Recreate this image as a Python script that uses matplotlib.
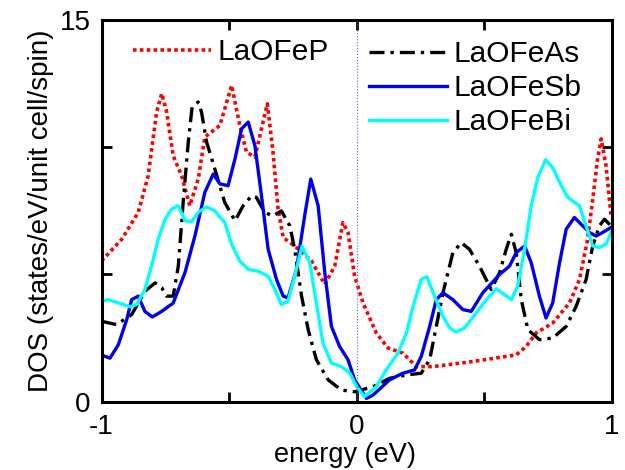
import matplotlib
matplotlib.use('Agg')
import matplotlib.pyplot as plt

plt.rcParams['font.family'] = ['Liberation Sans', 'DejaVu Sans']

# DOS curves (energy in eV, DOS)
p_x = [-1.0, -0.921, -0.856, -0.817, -0.784, -0.764, -0.745, -0.719, -0.686, -0.654, -0.621, -0.595,
       -0.536, -0.49, -0.458, -0.432, -0.399, -0.373, -0.350, -0.328, -0.308, -0.288, -0.243, -0.177,
       -0.125, -0.086, -0.054, -0.034, -0.008, 0.025, 0.077, 0.123, 0.181, 0.234, 0.299, 0.455, 0.625,
       0.664, 0.703, 0.768, 0.834, 0.873, 0.905, 0.925, 0.944, 0.958, 0.977, 0.997]
p_y = [5.53, 6.38, 7.44, 8.88, 11.39, 12.11, 11.4, 9.67, 8.88, 7.70, 8.75, 10.40,
       10.86, 12.43, 10.86, 9.81, 9.61, 10.73, 11.71, 9.81, 7.57, 6.45, 6.12, 5.53,
       4.61, 5.33, 7.04, 6.65, 4.93, 3.88, 2.70, 2.11, 1.91, 1.38, 1.38, 1.58, 1.84,
       2.17, 2.70, 3.09, 3.88, 4.80, 6.38, 7.96, 9.54, 10.33, 9.28, 7.30]

as_x = [-1.0, -0.941, -0.882, -0.83, -0.79, -0.764, -0.745, -0.719, -0.699, -0.68, -0.66, -0.645,
        -0.621, -0.608, -0.588, -0.556, -0.517, -0.477, -0.445, -0.412, -0.393, -0.36, -0.328, -0.295,
        -0.262, -0.243, -0.216, -0.19, -0.158, -0.112, -0.06, -0.008, 0.064, 0.129, 0.195, 0.253,
        0.286, 0.312, 0.338, 0.377, 0.41, 0.442, 0.481, 0.527, 0.560, 0.586, 0.606, 0.625, 0.645,
        0.671, 0.716, 0.768, 0.821, 0.86, 0.899, 0.925, 0.951, 0.971, 0.997]
as_y = [3.16, 3.03, 3.42, 4.34, 4.67, 4.48, 4.15, 4.15, 5.33, 7.83, 10.2, 11.58,
        11.78, 11.38, 10.2, 9.15, 7.83, 7.11, 7.70, 8.09, 8.03, 7.44, 7.30, 7.50,
        6.91, 5.99, 4.15, 2.83, 1.65, 0.86, 0.46, 0.39, 0.59, 0.92, 1.05, 1.12,
        1.65, 2.96, 4.28, 5.86, 6.25, 5.99, 5.33, 4.41, 5.07, 5.99, 6.58, 5.86, 4.01,
        2.83, 2.44, 2.50, 2.96, 3.75, 4.80, 6.12, 6.91, 7.17, 6.91]

sb_x = [-1.0, -0.967, -0.934, -0.901, -0.882, -0.856, -0.83, -0.801, -0.764, -0.719, -0.673, -0.634,
        -0.595, -0.562, -0.536, -0.504, -0.477, -0.451, -0.425, -0.399, -0.373, -0.347, -0.314, -0.288,
        -0.269, -0.236, -0.204, -0.18, -0.151, -0.125, -0.099, -0.067, -0.034, -0.008, 0.038, 0.064,
        0.129, 0.181, 0.227, 0.253, 0.286, 0.312, 0.338, 0.377, 0.416, 0.449, 0.494, 0.56, 0.599,
        0.625, 0.658, 0.684, 0.716, 0.742, 0.768, 0.795, 0.821, 0.853, 0.886, 0.912, 0.938, 0.964, 0.997]
sb_y = [1.84, 1.71, 2.24, 3.23, 4.01, 4.15, 3.55, 3.33, 3.55, 3.88, 5.07, 6.51,
        8.23, 8.95, 8.56, 8.49, 9.54, 10.73, 10.99, 10.07, 8.09, 5.99, 4.80, 4.15,
        4.08, 5.20, 7.30, 8.75, 7.70, 5.07, 2.96, 2.17, 1.65, 0.86, 0.13, 0.26,
        0.86, 1.12, 1.25, 1.78, 2.96, 4.01, 4.28, 4.01, 3.62, 3.55, 4.28, 5.0, 5.33,
        5.86, 6.12, 5.46, 4.15, 3.29, 3.88, 5.46, 6.78, 7.24, 6.91, 6.65, 6.51, 6.65, 6.85]

bi_x = [-1.0, -0.973, -0.927, -0.888, -0.862, -0.83, -0.804, -0.778, -0.751, -0.725, -0.699, -0.673,
        -0.647, -0.621, -0.588, -0.556, -0.517, -0.49, -0.458, -0.425, -0.386, -0.347, -0.321, -0.295,
        -0.269, -0.243, -0.214, -0.184, -0.158, -0.132, -0.099, -0.06, -0.027, 0.0, 0.031, 0.077,
        0.116, 0.162, 0.195, 0.221, 0.253, 0.275, 0.305, 0.338, 0.364, 0.390, 0.423, 0.468, 0.508,
        0.547, 0.579, 0.606, 0.631, 0.658, 0.684, 0.710, 0.740, 0.768, 0.795, 0.827, 0.873, 0.899,
        0.925, 0.951, 0.977, 0.997]
bi_y = [3.95, 4.01, 3.86, 3.73, 3.82, 4.41, 5.33, 6.38, 7.17, 7.57, 7.70, 7.11,
        7.07, 7.44, 7.66, 7.50, 7.04, 6.19, 5.53, 5.20, 5.13, 4.93, 4.41, 3.82,
        3.95, 4.93, 6.12, 5.46, 3.88, 2.30, 1.52, 1.38, 1.12, 0.59, 0.20, 0.59,
        1.25, 1.91, 2.70, 3.75, 4.80, 4.91, 4.15, 3.36, 2.90, 2.74, 2.90, 3.49, 4.01,
        4.44, 4.21, 4.01, 4.54, 5.99, 7.70, 8.82, 9.51, 9.21, 8.62, 8.03, 7.70, 6.91,
        6.12, 6.06, 6.19, 6.65]

fig = plt.figure(figsize=(6.25, 4.7), dpi=100)
ax = fig.add_axes([0.1624, 0.1453, 0.8166, 0.8121])

l1, = ax.plot(p_x, p_y, color='red', lw=2.6, linestyle=(0, (1, 0.9)), label='LaOFeP')
l2, = ax.plot(as_x, as_y, color='black', lw=2.4, linestyle=(0, (4.5, 1.8, 1, 1.8)), label='LaOFeAs')
l3, = ax.plot(sb_x, sb_y, color='#0000ee', lw=2.4, label='LaOFeSb')
l4, = ax.plot(bi_x, bi_y, color='cyan', lw=2.4, label='LaOFeBi')
ax.axvline(0, color='#6060ff', lw=0.8, linestyle=':')

ax.set_xlim(-1, 1)
ax.set_ylim(0, 15)
ax.set_xticks([-1, -0.5, 0, 0.5, 1])
ax.set_xticklabels(['-1', '', '0', '', '1'])
ax.set_yticks([0, 5, 10, 15])
ax.set_yticklabels(['0', '', '', '15'])
ax.tick_params(direction='in', length=7, width=2, labelsize=20, top=True, right=True)
ax.tick_params(axis='x', pad=9)
ax.tick_params(axis='y', pad=8)
for s in ax.spines.values():
    s.set_linewidth(2.2)

# label hugs the bottom edge like the original
ax.set_xlabel('energy (eV)', fontsize=19.5)
ax.xaxis.set_label_coords(0.477, -0.174, transform=ax.transAxes)
ax.xaxis.label.set_va('bottom')
ax.set_ylabel('DOS (states/eV/unit cell/spin)', fontsize=20, labelpad=4)

leg1 = ax.legend(handles=[l1], loc='upper left', bbox_to_anchor=(0.062, 0.952), frameon=False,
                 fontsize=21.5, handlelength=2.6, handletextpad=0.22, borderpad=0, borderaxespad=0)
ax.add_artist(leg1)
ax.legend(handles=[l2, l3, l4], loc='upper left', bbox_to_anchor=(0.525, 0.947), frameon=False,
          fontsize=21.5, handlelength=2.6, handletextpad=0.22, labelspacing=0.2,
          borderpad=0, borderaxespad=0)

fig.savefig('out.png', dpi=100)
